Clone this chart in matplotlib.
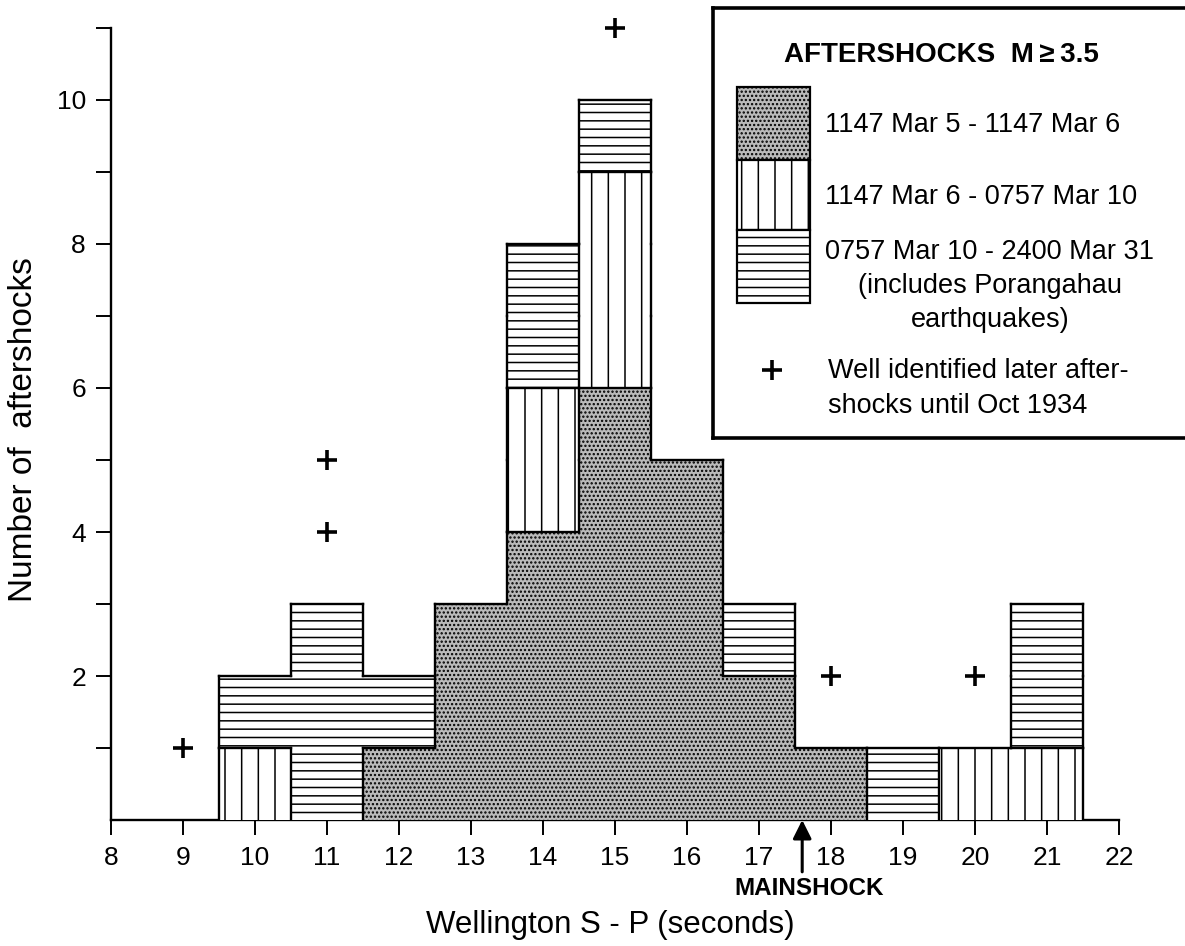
import matplotlib
matplotlib.use("Agg")
import matplotlib.pyplot as plt
from matplotlib.patches import Rectangle
from matplotlib.collections import LineCollection
import numpy as np

plt.rcParams['font.family'] = ['Liberation Sans', 'DejaVu Sans']
plt.rcParams['hatch.linewidth'] = 1.1

# ---- data ----
sp_bins = [10, 11, 12, 13, 14, 15, 16, 17, 18, 19, 20, 21]
period1 = [0, 0, 1, 3, 4, 6, 5, 2, 1, 0, 0, 0]   # 1147 Mar 5 - 1147 Mar 6
period2 = [1, 0, 0, 0, 2, 3, 0, 0, 0, 0, 1, 1]   # 1147 Mar 6 - 0757 Mar 10
period3 = [1, 3, 1, 0, 2, 1, 0, 1, 0, 1, 0, 2]   # 0757 Mar 10 - 2400 Mar 31
later_x = [9, 11, 11, 15, 18, 20]
later_y = [1, 4, 5, 11, 2, 2]
mainshock_sp = 17.6
x_ticks = list(range(8, 23))
y_ticks = list(range(1, 12))
y_labels = ['', '2', '', '4', '', '6', '', '8', '', '10', '']

W, H = 1185, 946
fig = plt.figure(figsize=(W / 100, H / 100), dpi=100)
ax = fig.add_axes([111 / W, (H - 820) / H, (1119 - 111) / W, (820 - 28) / H])

p1 = np.array(period1)
p2 = np.array(period2)
p3 = np.array(period3)
dot_face = '#bababa'
fill_kw = dict(width=1.0, edgecolor='black', linewidth=0, zorder=3)
ax.bar(sp_bins, p1, color=dot_face, hatch='....', **fill_kw)
ax.bar(sp_bins, p2, bottom=p1, color='white', hatch='|', **fill_kw)
ax.bar(sp_bins, p3, bottom=p1 + p2, color='white', hatch='--', **fill_kw)

# outlines only where neighbouring cells belong to different periods
grid = [[1] * a + [2] * b + [3] * c for a, b, c in zip(period1, period2, period3)]
n = len(sp_bins)
top = int((p1 + p2 + p3).max()) + 1
edges = list(np.array(sp_bins) - 0.5) + [sp_bins[-1] + 0.5]


def lab(i, k):
    if 0 <= i < n and 0 <= k < len(grid[i]):
        return grid[i][k]
    return 0


segs = []
for i in range(-1, n):
    for k in range(top):
        if lab(i, k) != lab(i + 1, k):
            x = edges[i + 1]
            segs.append([(x, k), (x, k + 1)])
for i in range(n):
    for k in range(top):
        if lab(i, k) != lab(i, k + 1):
            segs.append([(edges[i], k + 1), (edges[i + 1], k + 1)])
ax.add_collection(LineCollection(segs, colors='black', linewidths=1.7,
                                 capstyle='projecting', zorder=4))

ax.plot(later_x, later_y, linestyle='none', marker='+', markersize=15,
        markeredgewidth=2.6, color='black', clip_on=False, zorder=5)

ax.set_xlim(8, 22)
ax.set_ylim(0, 11)
ax.spines['top'].set_visible(False)
ax.spines['right'].set_visible(False)
for s in ('left', 'bottom'):
    ax.spines[s].set_linewidth(1.7)
ax.set_xticks(x_ticks)
ax.set_xticklabels([str(t) for t in x_ticks])
ax.set_yticks(y_ticks)
ax.set_yticklabels(y_labels)
ax.tick_params(axis='both', direction='out', length=11, width=1.4,
               labelsize=19, pad=7)
ax.tick_params(axis='x', pad=8)

ax.set_xlabel('Wellington S - P (seconds)', fontsize=22.5, va='center')
ax.xaxis.set_label_coords((610 - 111) / 1008, (820 - 925) / 792)
ax.set_ylabel('Number of  aftershocks', fontsize=24, va='center')
ax.yaxis.set_label_coords((24 - 111) / 1008, (820 - 430) / 792)

# mainshock arrow
ax.annotate('', xy=(mainshock_sp, 0), xytext=(mainshock_sp, -0.72),
            arrowprops=dict(arrowstyle='-|>', lw=2.2, color='black',
                            mutation_scale=28, shrinkA=0, shrinkB=0),
            annotation_clip=False)
ax.text(mainshock_sp + 0.1, -0.95, 'MAINSHOCK', fontsize=17.5, fontweight='bold',
        ha='center', va='center', clip_on=False)

# ---- legend box (pixel coordinates of figure) ----
lx0, ly0, lx1, ly1 = 713, 8, 1195, 438
lax = fig.add_axes([lx0 / W, (H - ly1) / H, (lx1 - lx0) / W, (ly1 - ly0) / H])
lax.set_xlim(lx0, lx1)
lax.set_ylim(ly1, ly0)
lax.set_xticks([])
lax.set_yticks([])
for s in lax.spines.values():
    s.set_linewidth(2.6)
lax.spines['right'].set_visible(False)

lax.text(941, 55, 'AFTERSHOCKS  M\u2009\u2265\u20093.5', fontsize=20, fontweight='bold',
         ha='center', va='center')
sw_x, sw_w = 737, 73
lax.add_patch(Rectangle((sw_x, 87), sw_w, 73, facecolor=dot_face, hatch='....',
                        edgecolor='black', linewidth=1.6))
lax.add_patch(Rectangle((sw_x, 160), sw_w, 70, facecolor='white', hatch='|',
                        edgecolor='black', linewidth=1.6))
lax.add_patch(Rectangle((sw_x, 230), sw_w, 73, facecolor='white', hatch='--',
                        edgecolor='black', linewidth=1.6))
fs = 19.5
lax.text(825, 125, '1147 Mar 5 - 1147 Mar 6', fontsize=fs, ha='left', va='center')
lax.text(825, 197, '1147 Mar 6 - 0757 Mar 10', fontsize=fs, ha='left', va='center')
lax.text(990, 286, '0757 Mar 10 - 2400 Mar 31\n(includes Porangahau\nearthquakes)',
         fontsize=fs, ha='center', va='center', multialignment='center',
         linespacing=1.4)
lax.plot([772], [370], marker='+', markersize=15, markeredgewidth=2.6, color='black')
lax.text(828, 388, 'Well identified later after-\nshocks until Oct 1934',
         fontsize=fs, ha='left', va='center', linespacing=1.45)

fig.savefig('out.png', dpi=100)
